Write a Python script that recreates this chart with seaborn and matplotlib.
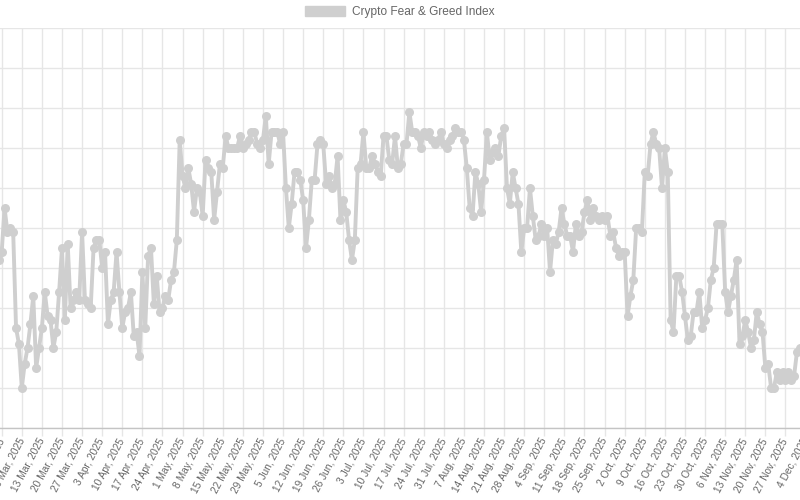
import pandas as pd
import numpy as np
import matplotlib.pyplot as plt
import seaborn as sns
from matplotlib.patches import Patch

#### Daily Crypto Fear & Greed Index values, one list per month
feb_vals = [42, 44, 55]
mar_vals = [49, 50, 49, 25, 21, 10, 16, 20, 26, 33, 15, 20, 25, 34, 28, 27, 20, 24, 34, 45,
            27, 46, 30, 32, 34, 32, 49, 32, 31, 30, 45]
apr_vals = [47, 47, 40, 44, 26, 32, 34, 44, 34, 25, 29, 30, 34, 23, 24, 18, 39, 25, 43, 45,
            31, 38, 29, 30, 33, 32, 37, 39, 47, 72]
may_vals = [63, 60, 65, 61, 54, 60, 59, 53, 67, 65, 64, 52, 59, 66, 65, 73, 70, 70, 70, 70,
            73, 70, 71, 72, 74, 74, 71, 70, 72, 78, 66]
jun_vals = [74, 74, 74, 71, 74, 60, 50, 56, 64, 64, 62, 57, 45, 52, 62, 62, 71, 72, 71, 61,
            63, 60, 61, 68, 52, 57, 54, 47, 42, 47]
jul_vals = [65, 66, 74, 65, 65, 68, 66, 64, 63, 73, 73, 67, 66, 73, 65, 66, 71, 71, 79, 74,
            74, 73, 70, 74, 73, 74, 72, 71, 72, 74, 71]
aug_vals = [70, 72, 73, 75, 74, 74, 72, 65, 55, 53, 64, 61, 54, 62, 74, 67, 69, 70, 68, 73,
            75, 60, 56, 64, 60, 56, 44, 50, 50, 60, 53]
sep_vals = [47, 48, 51, 48, 50, 39, 47, 46, 49, 55, 51, 48, 48, 44, 51, 48, 49, 54, 57, 52,
            55, 53, 52, 53, 52, 53, 48, 49, 45, 43]
oct_vals = [44, 44, 28, 33, 37, 50, 50, 49, 64, 63, 71, 74, 71, 70, 60, 70, 64, 27, 24, 38,
            38, 34, 28, 22, 23, 29, 29, 34, 25, 27, 30]
nov_vals = [37, 40, 51, 51, 51, 34, 29, 33, 37, 42, 21, 23, 27, 24, 20, 22, 29, 26, 24, 15,
            16, 10, 10, 14, 12, 14, 12, 14, 12, 13]
dec_vals = [19, 20]

values = feb_vals + mar_vals + apr_vals + may_vals + jun_vals + jul_vals + aug_vals + \
    sep_vals + oct_vals + nov_vals + dec_vals
dates = pd.date_range('2025-02-26', periods=len(values), freq='D')
df = pd.DataFrame({'date': dates, 'value': values})

#### weekly labels on the x axis, like "6 Mar, 2025"
tick_dates = pd.date_range('2025-02-20', '2025-12-04', freq='7D')
tick_labels = [f"{d.day} {d.strftime('%b')}, {d.year}" for d in tick_dates]

sns.set_theme(style='white')
plt.rcParams['font.family'] = ['Liberation Sans', 'DejaVu Sans']

line_color = '#cfcfcf'
grid_color = '#e6e6e6'

fig = plt.figure(figsize=(8, 5), dpi=100)
#### the screenshot is a crop of a wider chart, so the axes run past both figure edges
ax = fig.add_axes([-30 / 800, 72 / 500, 840 / 800, 400 / 500])

sns.lineplot(data=df, x='date', y='value', ax=ax, color=line_color, linewidth=2.8,
             marker='o', markersize=6.5, markeredgewidth=0, markerfacecolor=line_color)

day0 = pd.Timestamp('2025-02-27')
ax.set_xlim(day0 + pd.Timedelta(days=-11.04), day0 + pd.Timedelta(days=281.55))
ax.set_ylim(0, 100)
ax.set_yticks(range(0, 101, 10))
ax.set_xticks(tick_dates)
ax.set_xticklabels(tick_labels, rotation=62, ha='right', va='center',
                   rotation_mode='anchor', color='#666666', fontsize=7.3)
ax.tick_params(axis='x', length=5.8, width=1, color=grid_color, pad=2, bottom=True)
ax.tick_params(axis='y', left=False, labelleft=False)
ax.set_xlabel('')
ax.set_ylabel('')
ax.grid(True, color=grid_color, linewidth=1)
for side in ['left', 'right', 'top']:
    ax.spines[side].set_visible(False)
ax.spines['bottom'].set_color('#c4c4c4')
ax.spines['bottom'].set_linewidth(1)

handles = [Patch(facecolor=line_color, edgecolor=line_color, label='Crypto Fear & Greed Index')]
fig.legend(handles=handles, loc='center', bbox_to_anchor=(0.5, 1 - 12 / 500), frameon=False,
           handlelength=3.33, handleheight=1.0, handletextpad=0.6, fontsize=8.6,
           labelcolor='#666666')

plt.savefig('out.png', dpi=100)
